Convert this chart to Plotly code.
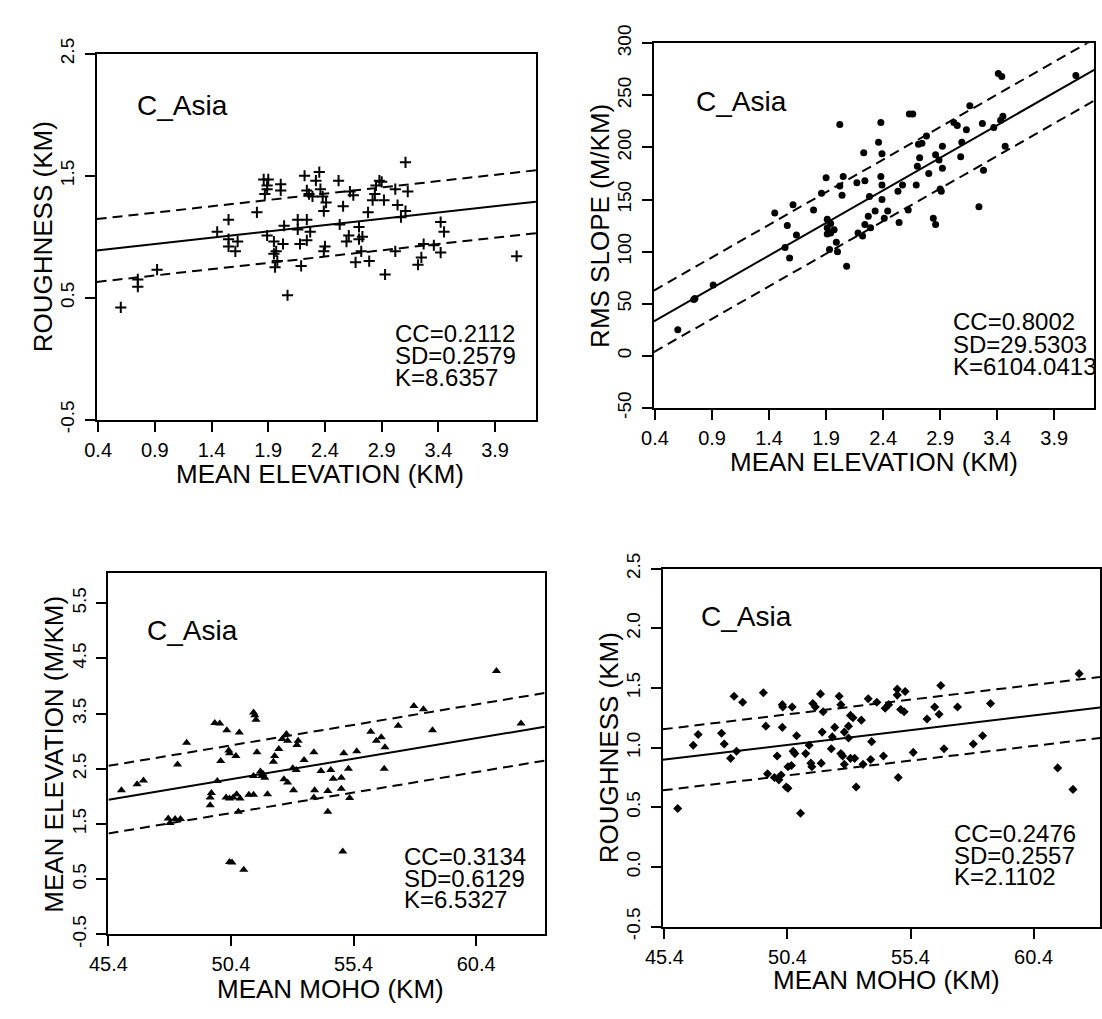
import plotly.graph_objects as go

W, H = 1102, 1019

# ---------------- data ----------------
# Panel 1: roughness vs mean elevation
p1_x = [0.60, 0.75, 0.75, 0.92, 1.45, 1.55, 1.55, 1.55, 1.63, 1.61, 1.80, 1.86, 1.90, 1.89, 1.89, 1.87,
        2.01, 2.01, 1.89, 1.95, 1.97, 1.95, 1.98, 1.96, 2.04, 2.03, 2.07, 2.16, 2.16, 2.18, 2.19, 2.22,
        2.24, 2.26, 2.24, 2.24, 2.27, 2.29, 2.32, 2.35, 2.36, 2.38, 2.39, 2.41, 2.40, 2.39, 2.52, 2.53,
        2.56, 2.59, 2.61, 2.62, 2.65, 2.67, 2.70, 2.70, 2.73, 2.72, 2.78, 2.79, 2.82, 2.84, 2.85, 2.88,
        2.90, 2.92, 2.93, 3.02, 3.04, 3.02, 3.07, 3.11, 3.11, 3.13, 3.22, 3.25, 3.27, 3.36, 3.42, 3.45,
        3.42, 4.09]
p1_y = [0.42, 0.65, 0.59, 0.73, 1.04, 1.14, 0.98, 0.92, 0.96, 0.88, 1.20, 1.47, 1.47, 1.42, 1.39, 1.35,
        1.43, 1.38, 1.01, 0.96, 0.88, 0.86, 0.80, 0.75, 1.09, 0.94, 0.52, 1.06, 1.14, 0.94, 0.76, 1.50,
        1.38, 1.35, 1.14, 0.97, 1.04, 1.33, 1.46, 1.53, 1.39, 1.33, 1.21, 1.28, 0.92, 0.88, 1.46, 1.10,
        1.25, 0.96, 1.01, 1.37, 1.34, 0.79, 1.08, 0.98, 1.00, 0.88, 1.20, 0.80, 1.30, 1.35, 1.42, 1.46,
        1.45, 1.30, 0.69, 1.39, 1.26, 0.88, 1.16, 1.21, 1.61, 1.37, 0.77, 0.83, 0.94, 0.93, 1.12, 1.04,
        0.87, 0.84]

# Panel 2: RMS slope vs mean elevation
p2_x = [0.60, 0.74, 0.75, 0.91, 1.45, 1.56, 1.54, 1.58, 1.61, 1.64, 1.79, 1.86, 1.90, 1.91, 1.91, 1.91,
        1.94, 1.97, 1.94, 1.99, 1.93, 2.00, 2.02, 2.02, 2.05, 2.04, 2.08, 2.17, 2.18, 2.22, 2.23, 2.24,
        2.24, 2.27, 2.28, 2.29, 2.33, 2.36, 2.38, 2.38, 2.39, 2.39, 2.39, 2.41, 2.44, 2.53, 2.54, 2.57,
        2.62, 2.63, 2.66, 2.69, 2.70, 2.71, 2.74, 2.72, 2.78, 2.80, 2.84, 2.86, 2.86, 2.89, 2.90, 2.91,
        2.92, 2.92, 3.02, 3.05, 3.08, 3.09, 3.13, 3.16, 3.24, 3.27, 3.28, 3.37, 3.41, 3.44, 3.43, 3.45,
        3.47, 4.09]
p2_y = [25, 54, 55, 68, 137, 125, 104, 94, 145, 116, 140, 156, 171, 131, 123, 117,
        127, 121, 118, 109, 102, 100, 222, 163, 172, 154, 86, 166, 118, 115, 195, 168,
        126, 134, 153, 123, 139, 205, 224, 172, 164, 150, 194, 132, 139, 158, 128, 164,
        140, 232, 232, 164, 182, 203, 204, 190, 211, 175, 132, 126, 193, 188, 160, 158,
        201, 180, 224, 221, 191, 205, 217, 240, 143, 223, 178, 219, 271, 268, 226, 230,
        201, 269]

# Panel 3: mean elevation vs mean moho
p3_x = [45.93, 46.57, 46.83, 47.84, 47.91, 48.12, 48.34, 48.22, 48.59, 49.55, 49.55, 49.60, 49.74, 49.94,
        49.84, 49.98, 50.23, 50.20, 50.31, 50.34, 50.34, 50.49, 50.34, 50.44, 50.60, 50.63, 50.74, 50.77,
        50.70, 50.92, 51.13, 51.32, 51.32, 51.37, 51.42, 51.46, 51.32, 51.60, 51.70, 51.78, 51.66, 51.89,
        52.13, 52.18, 52.35, 52.49, 52.56, 52.66, 52.71, 52.71, 52.95, 52.92, 53.06, 53.14, 53.09, 53.38,
        53.78, 53.81, 53.78, 54.07, 54.35, 54.35, 54.47, 54.57, 54.90, 54.90, 55.00, 54.96, 55.19, 55.24,
        55.53, 56.10, 56.33, 56.53, 56.68, 56.65, 57.22, 57.86, 58.25, 58.62, 61.23, 62.23]
p3_y = [2.11, 2.22, 2.29, 1.60, 1.52, 1.59, 1.59, 2.58, 2.97, 1.98, 1.84, 2.06, 3.33, 3.32,
        2.28, 2.64, 3.20, 1.98, 2.83, 2.78, 1.96, 1.98, 0.81, 0.80, 2.73, 2.04, 3.16, 1.96,
        1.72, 0.67, 2.03, 2.03, 3.52, 3.47, 3.39, 2.80, 2.37, 2.45, 2.41, 2.34, 2.37, 2.04,
        2.63, 2.73, 2.86, 3.04, 2.31, 3.13, 2.25, 3.01, 2.11, 2.51, 2.48, 3.01, 2.93, 2.66,
        2.80, 2.11, 1.98, 2.46, 2.10, 1.72, 2.48, 2.32, 2.14, 2.34, 2.78, 1.00, 2.50, 1.97,
        2.82, 3.17, 3.01, 3.07, 2.89, 2.50, 3.28, 3.64, 3.58, 3.20, 4.27, 3.32]

# Panel 4: roughness vs mean moho
p4_x = [45.94, 46.57, 46.77, 47.72, 47.83, 48.09, 48.23, 48.33, 48.58, 49.42, 49.52, 49.59, 49.87, 49.98,
        50.05, 50.19, 50.21, 50.19, 50.14, 50.35, 50.42, 50.42, 50.56, 50.59, 50.63, 50.70, 50.77, 50.93,
        51.14, 51.28, 51.35, 51.39, 51.43, 51.53, 51.74, 51.77, 51.81, 51.85, 52.18, 52.22, 52.32, 52.50,
        52.57, 52.57, 52.64, 52.71, 52.71, 52.88, 52.88, 52.96, 53.06, 52.96, 53.13, 53.19, 53.40, 53.47,
        53.68, 53.78, 53.82, 54.03, 54.30, 54.37, 54.51, 54.86, 54.86, 54.90, 55.00, 55.14, 55.18, 55.51,
        56.07, 56.38, 56.56, 56.63, 56.76, 57.31, 57.95, 58.33, 58.65, 61.38, 62.00, 62.25]
p4_y = [0.49, 1.02, 1.11, 1.12, 1.03, 0.91, 1.43, 0.97, 1.38, 1.46, 1.18, 0.78, 0.75, 0.93,
        0.73, 1.36, 1.34, 1.17, 0.77, 0.67, 0.66, 0.84, 0.85, 1.34, 0.97, 0.95, 1.10, 0.45,
        0.95, 1.02, 0.87, 0.84, 1.37, 1.34, 1.45, 0.87, 1.13, 1.30, 0.99, 1.09, 1.17, 1.43,
        1.36, 0.95, 0.93, 0.86, 1.13, 1.08, 1.18, 1.27, 1.25, 0.91, 0.91, 0.67, 1.23, 0.86,
        1.41, 0.90, 1.05, 1.38, 0.93, 1.33, 1.36, 1.49, 1.44, 0.75, 1.32, 1.30, 1.47, 0.96,
        1.24, 1.34, 1.28, 1.52, 0.99, 1.34, 1.03, 1.10, 1.37, 0.83, 0.65, 1.62]

# regression fits (intercept, slope) and SD
fit_intercept = [0.847, 8.8, -1.428, -0.222]
fit_slope = [0.1033, 62.5, 0.0742, 0.0247]
fit_sd = [0.2579, 29.5303, 0.6129, 0.2557]

stats_text = [
    ["CC=0.2112", "SD=0.2579", "K=8.6357"],
    ["CC=0.8002", "SD=29.5303", "K=6104.0413"],
    ["CC=0.3134", "SD=0.6129", "K=6.5327"],
    ["CC=0.2476", "SD=0.2557", "K=2.1102"],
]
region_label = "C_Asia"
x_titles = ["MEAN ELEVATION (KM)", "MEAN ELEVATION (KM)", "MEAN MOHO (KM)", "MEAN MOHO (KM)"]
y_titles = ["ROUGHNESS (KM)", "RMS SLOPE (M/KM)", "MEAN ELEVATION (M/KM)", "ROUGHNESS (KM)"]

x_tickvals = [[0.4, 0.9, 1.4, 1.9, 2.4, 2.9, 3.4, 3.9]] * 2 + [[45.4, 50.4, 55.4, 60.4]] * 2
y_tickvals = [[-0.5, 0.5, 1.5, 2.5],
              [-50, 0, 50, 100, 150, 200, 250, 300],
              [-0.5, 0.5, 1.5, 2.5, 3.5, 4.5, 5.5],
              [-0.5, 0.0, 0.5, 1.0, 1.5, 2.0, 2.5]]
y_ticktext = [["-0.5", "0.5", "1.5", "2.5"],
              ["-50", "0", "50", "100", "150", "200", "250", "300"],
              ["-0.5", "0.5", "1.5", "2.5", "3.5", "4.5", "5.5"],
              ["-0.5", "0.0", "0.5", "1.0", "1.5", "2.0", "2.5"]]

# ---------------- layout / style (pixel positions) ----------------
FONT = "Liberation Sans, Arial, Helvetica, sans-serif"
boxes = [(79, 526, 36, 414), (646, 1094, 25, 402), (91, 535, 573, 946), (655, 1100, 568, 938)]
x_ranges = [[0.387, 4.26], [0.39, 4.25], [45.4, 63.2], [45.33, 63.1]]
y_ranges = [[-0.5, 2.5], [-50, 300], [-0.5, 6.04], [-0.5, 2.5]]
markers = [
    dict(symbol="cross-thin", size=8, line=dict(width=2, color="black"), color="black"),
    dict(symbol="circle", size=7, color="black"),
    dict(symbol="triangle-up", size=8, color="black"),
    dict(symbol="diamond", size=7, color="black"),
]
label_px = [(118, 89), (687, 85), (128, 632), (692, 618)]
stats_px = [(381, [325, 348, 371]), (948, [313, 336, 359]),
            (390, [866, 888, 910]), (949, [842, 864, 886])]
xtitle_px = [(306, 470), (870, 458), (317, 1002), (883, 993)]
ytitle_px = [(24, 225), (591, 214), (36, 760), (600, 753)]


def px(x):
    return x / W


def py(y):
    return 1 - y / H


xs = [p1_x, p2_x, p3_x, p4_x]
ys = [p1_y, p2_y, p3_y, p4_y]

fig = go.Figure()
layout = dict(width=W, height=H, margin=dict(l=0, r=0, t=0, b=0),
              paper_bgcolor="white", plot_bgcolor="white", showlegend=False,
              font=dict(family=FONT, color="black"))
annotations = []

for i in range(4):
    n = "" if i == 0 else str(i + 1)
    xa, ya = "x" + n, "y" + n
    L, R, T, B = boxes[i]
    layout["xaxis" + n] = dict(
        domain=[px(L), px(R)], range=x_ranges[i], anchor=ya,
        showline=True, linecolor="black", linewidth=2, mirror=True,
        ticks="outside", ticklen=10, tickwidth=2, tickcolor="black",
        tickvals=x_tickvals[i], ticktext=[f"{v:.1f}" for v in x_tickvals[i]],
        tickfont=dict(size=20, family=FONT), showgrid=False, zeroline=False,
        ticklabelstandoff=1)
    layout["yaxis" + n] = dict(
        domain=[py(B), py(T)], range=y_ranges[i], anchor=xa,
        showline=True, linecolor="black", linewidth=2, mirror=True,
        ticks="outside", ticklen=10, tickwidth=2, tickcolor="black",
        tickvals=y_tickvals[i], ticktext=y_ticktext[i], tickangle=-90,
        tickfont=dict(size=19, family=FONT), showgrid=False, zeroline=False,
        ticklabelstandoff=3)

    fig.add_trace(go.Scatter(x=xs[i], y=ys[i], mode="markers", marker=markers[i],
                             xaxis=xa, yaxis=ya, cliponaxis=True))
    # regression line and +/- SD lines
    x0, x1 = x_ranges[i]
    a, b, s = fit_intercept[i], fit_slope[i], fit_sd[i]
    lx = [x0, x1]
    for off, dash in [(0, "solid"), (s, "10px,6px"), (-s, "10px,6px")]:
        fig.add_trace(go.Scatter(x=lx, y=[a + b * v + off for v in lx], mode="lines",
                                 line=dict(color="black", width=2, dash=dash),
                                 xaxis=xa, yaxis=ya))

    lx_, ly_ = label_px[i]
    annotations.append(dict(text=region_label, x=px(lx_), y=py(ly_),
                            xref="paper", yref="paper", xanchor="left", yanchor="middle",
                            showarrow=False, font=dict(size=28, family=FONT)))
    sx, sy = stats_px[i]
    for t, yy in zip(stats_text[i], sy):
        annotations.append(dict(text=t, x=px(sx), y=py(yy), xref="paper", yref="paper",
                                xanchor="left", yanchor="middle", showarrow=False,
                                font=dict(size=24, family=FONT)))
    tx, ty = xtitle_px[i]
    annotations.append(dict(text=x_titles[i], x=px(tx), y=py(ty), xref="paper", yref="paper",
                            xanchor="center", yanchor="middle", showarrow=False,
                            font=dict(size=26, family=FONT)))
    tx, ty = ytitle_px[i]
    annotations.append(dict(text=y_titles[i], x=px(tx), y=py(ty), xref="paper", yref="paper",
                            xanchor="center", yanchor="middle", showarrow=False,
                            textangle=-90, font=dict(size=26, family=FONT)))

layout["annotations"] = annotations
fig.update_layout(**layout)
fig.write_html("out.html")
